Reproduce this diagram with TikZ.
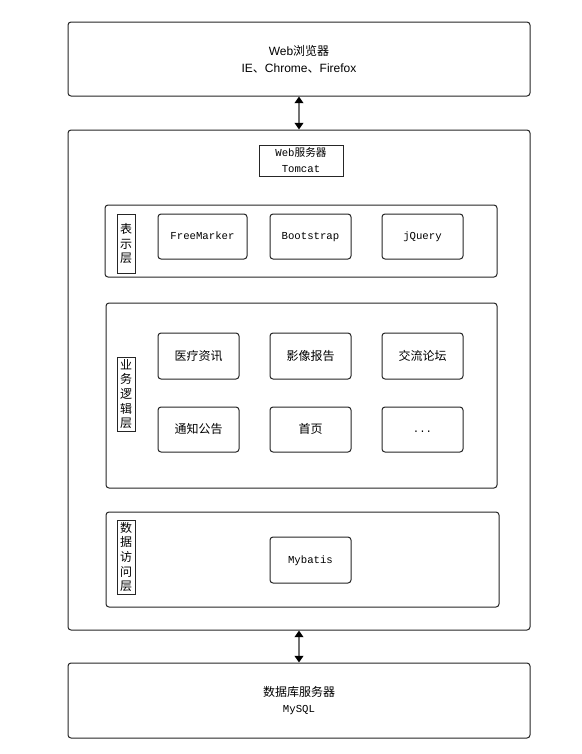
\documentclass[tikz,border=0pt]{standalone}
\usepackage{fontspec}
\setmainfont{Liberation Sans}
\newfontfamily\cjk{Noto Sans CJK SC}
\newfontfamily\mono{Liberation Mono}
\usetikzlibrary{arrows.meta}
\tikzset{
  sz/.style n args={2}{minimum width=#1*0.75pt, minimum height=#2*0.75pt},
  box/.style={draw=black!85, line width=0.75pt, rounded corners=2.25pt, inner sep=0pt, align=center},
  sqbox/.style={draw=black!85, line width=0.75pt, inner sep=0pt, align=center},
  item/.style={box, font=\mono\fontsize{8}{10}\selectfont, text height=6.5pt, text depth=1.5pt},
  citem/.style={box, font=\cjk\fontsize{9}{11}\selectfont, text height=7.4pt, text depth=1.2pt},
  vlabel/.style={sqbox, font=\cjk\fontsize{9}{11}\selectfont},
  arr/.style={draw=black!55, line width=1.4pt, {Triangle[length=5pt,width=6.5pt,fill=black,color=black]}-{Triangle[length=5pt,width=6.5pt,fill=black,color=black]}}
}
\begin{document}
\begin{tikzpicture}[x=0.75pt,y=-0.75pt]
\useasboundingbox (0,0) rectangle (582,754);
\fill[white] (0,0) rectangle (582,754);

\node[box, sz={462}{74}, font=\fontsize{9}{12.5}\selectfont] (browser) at (299,59)
  {Web{\cjk 浏览器}\\IE{\cjk 、}Chrome{\cjk 、}Firefox};
\node[box, sz={462}{500}] (server) at (299,380) {};
\node[sqbox, sz={84}{31}, font=\fontsize{8}{12}\selectfont] (tomcat) at (301,160.5)
  {{\mono Web}{\cjk 服务器}\\{\mono Tomcat}};

% presentation layer
\node[box, sz={392}{72}] (pres) at (301,241) {};
\node[vlabel, sz={18}{59}] (presl) at (126,243.5) {表\\示\\层};
\node[item, sz={89}{45}] (fm) at (202.5,236.5) {FreeMarker};
\node[item, sz={81}{45}] (bs) at (310.5,236.5) {Bootstrap};
\node[item, sz={81}{45}] (jq) at (422.5,236.5) {jQuery};

% business layer
\node[box, sz={391}{185}] (biz) at (301.5,395.5) {};
\node[vlabel, sz={18}{74}] (bizl) at (126,394) {业\\务\\逻\\辑\\层};
\node[citem, sz={81}{46}] (b1) at (198.5,356) {医疗资讯};
\node[citem, sz={81}{46}] (b2) at (310.5,356) {影像报告};
\node[citem, sz={81}{46}] (b3) at (422.5,356) {交流论坛};
\node[citem, sz={81}{45}] (b4) at (198.5,429.5) {通知公告};
\node[citem, sz={81}{45}] (b5) at (310.5,429.5) {首页};
\node[item, sz={81}{45}] (b6) at (422.5,429.5) {...};

% data access layer
\node[box, sz={393}{95}] (data) at (302.5,559.5) {};
\node[vlabel, sz={18}{74}] (datal) at (126,557) {数\\据\\访\\问\\层};
\node[item, sz={81}{46}] (mb) at (310.5,560) {Mybatis};

% database
\node[box, sz={462}{75}, font=\fontsize{9}{12.5}\selectfont] (db) at (299,700.5)
  {{\cjk 数据库服务器}\\{\mono\fontsize{8}{12.5}\selectfont MySQL}};

\draw[arr] (browser) -- (server);
\draw[arr] (server) -- (db);
\end{tikzpicture}
\end{document}
